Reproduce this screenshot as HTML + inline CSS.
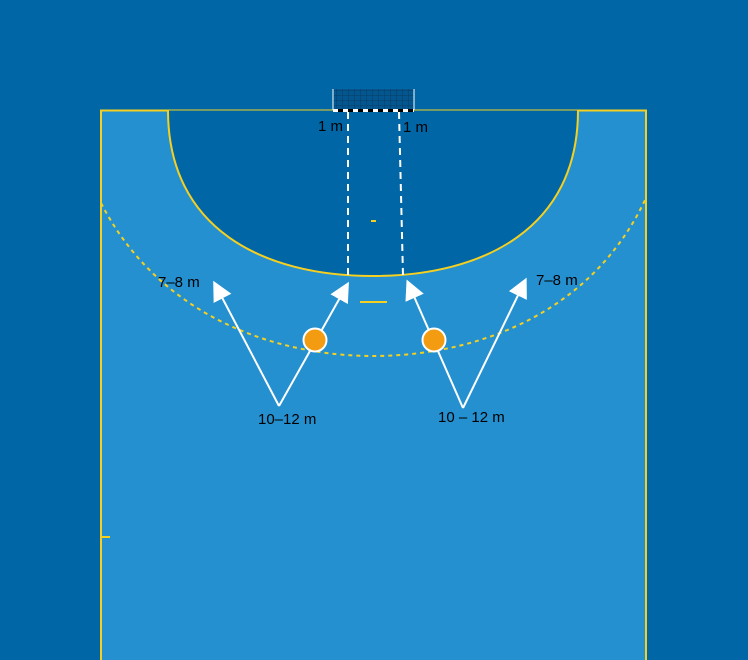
<!DOCTYPE html>
<html><head><style>html,body{margin:0;padding:0;background:#0066a6;}svg{display:block}</style></head>
<body>
<svg width="748" height="660" viewBox="0 0 748 660" xmlns="http://www.w3.org/2000/svg" font-family="Liberation Sans, sans-serif">
<defs>
<pattern id="net" width="6" height="5" patternUnits="userSpaceOnUse"><path d="M0 0H6M0 0V5" stroke="#0a3d66" stroke-width="1" fill="none"/></pattern>
<marker id="ah" viewBox="0 0 10 10" refX="7" refY="5" markerWidth="10" markerHeight="10" orient="auto"><path d="M0 0L10 5L0 10z" fill="#fff"/></marker>
</defs>
<rect width="748" height="660" fill="#0066a6"/>
<rect x="101" y="110.5" width="545" height="560" fill="#2490d0" stroke="#f5d020" stroke-width="2"/>
<path d="M168 110.5 C168 228 262 276 373 276 C484 276 578 228 578 110.5" fill="#0066a6" stroke="#f5d020" stroke-width="2"/>
<path d="M101 203 C160 318 278 356 373 356 C470 356 590 318 646 198" fill="none" stroke="#f5d020" stroke-width="2" stroke-dasharray="4 4"/>
<rect x="333" y="89" width="81" height="21" fill="#03568f"/>
<rect x="333" y="89" width="81" height="21" fill="url(#net)"/>
<path d="M333 89V110M414 89V110" stroke="#fff" stroke-width="1"/>
<path d="M333 110.5H414" stroke="#000" stroke-width="3"/>
<path d="M333 110.5H414" stroke="#fff" stroke-width="3" stroke-dasharray="5 5"/>
<path d="M348 112V276M399 112L403 276" stroke="#fff" stroke-width="2" stroke-dasharray="7 5"/>
<path d="M371 221H376M360 302H387M101 537H110" stroke="#f5d020" stroke-width="2"/>
<g stroke="#fff" stroke-width="2" fill="none" marker-end="url(#ah)">
<path d="M279 406L216 286"/>
<path d="M279 406L346 287"/>
<path d="M463 408L409 285"/>
<path d="M463 408L524 283"/>
</g>
<circle cx="315" cy="340" r="11.5" fill="#f39c12" stroke="#fff" stroke-width="2"/>
<circle cx="434" cy="340" r="11.5" fill="#f39c12" stroke="#fff" stroke-width="2"/>
<g font-size="15" fill="#000">
<text x="318" y="131">1 m</text>
<text x="403" y="132">1 m</text>
<text x="158" y="287">7–8 m</text>
<text x="536" y="285">7–8 m</text>
<text x="258" y="424">10–12 m</text>
<text x="438" y="422">10 – 12 m</text>
</g>
</svg>
</body></html>
